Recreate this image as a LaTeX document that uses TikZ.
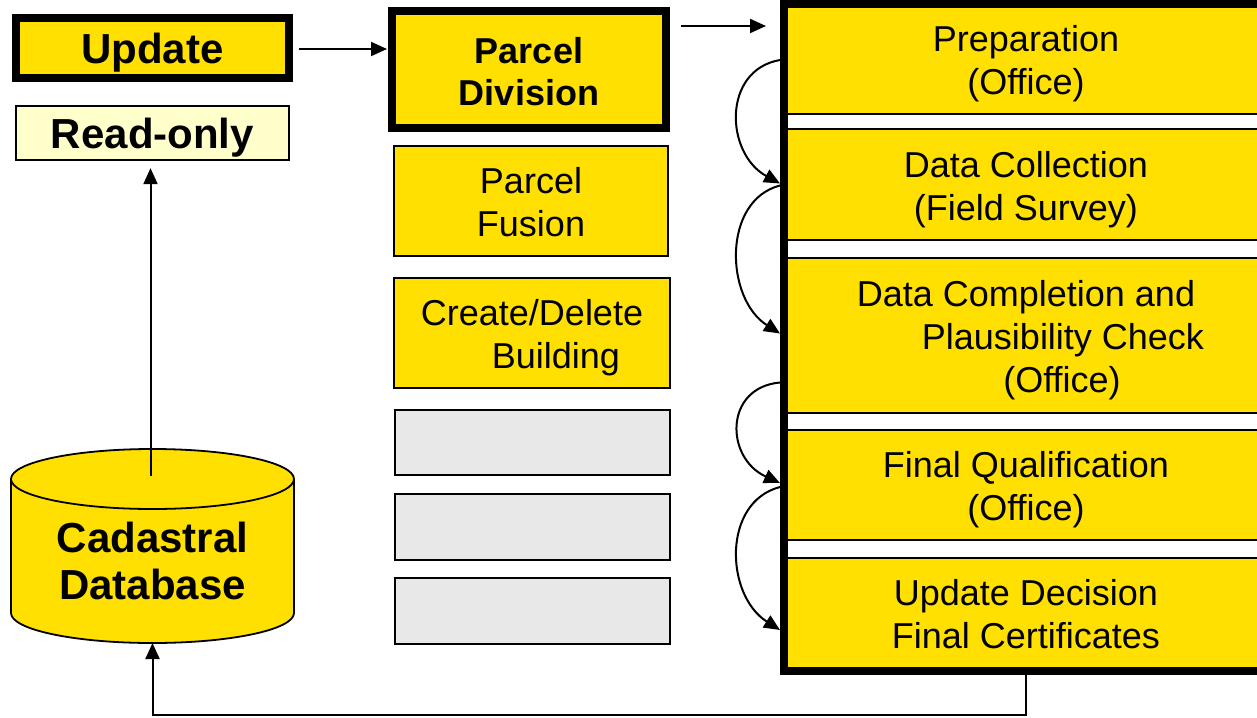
\documentclass[tikz,border=0pt]{standalone}
\usepackage{fontspec}
\setmainfont{Liberation Sans}
\usetikzlibrary{arrows.meta,calc}
\definecolor{yel}{RGB}{255,224,0}
\definecolor{paleyel}{RGB}{255,255,204}
\definecolor{lgray}{RGB}{232,232,232}
\newcommand{\lastdp}{\vphantom{(}}
\newcommand{\topstr}[1]{\rule{0pt}{#1}}
\begin{document}
\begin{tikzpicture}[x=1pt,y=-1pt,
  txt/.style={font=\fontsize{36}{43}\selectfont, align=center},
  bsmall/.style={font=\fontsize{36}{42}\selectfont\bfseries, align=center},
  bbig/.style={font=\fontsize{42}{47}\selectfont\bfseries, align=center},
  thickbox/.style={draw, line width=8pt, fill=yel, inner sep=0pt},
  thinbox/.style={draw, line width=1.8pt, fill=yel, inner sep=0pt},
  graybox/.style={draw, line width=1.8pt, fill=lgray, inner sep=0pt, minimum width=275.5pt, minimum height=65.5pt},
  secbox/.style={thinbox, txt, minimum width=480pt},
  arr/.style={line width=2pt, -{Triangle[length=16pt,width=14pt]}},
]
\clip (0,0) rectangle (1257,717);

% left column
\node[thickbox, bbig, minimum width=273pt, minimum height=60pt] (upd) at (152.5,48) {\topstr{39pt}Update\lastdp};
\node[thinbox, fill=paleyel, bbig, minimum width=273.5pt, minimum height=54.5pt] (ro) at (152.5,133) {\topstr{39pt}Read-only\lastdp};

% cylinder
\node[inner sep=0pt, outer sep=0pt, minimum width=283pt, minimum height=194pt] (db) at (152.5,546) {};
\path[fill=yel] (11,479) -- (11,613) .. controls (11,629.6) and (74.4,643) .. (152.5,643)
  .. controls (230.6,643) and (294,629.6) .. (294,613) -- (294,479) -- cycle;
\draw[line width=1.8pt] (11,479) -- (11,613) .. controls (11,629.6) and (74.4,643) .. (152.5,643)
  .. controls (230.6,643) and (294,629.6) .. (294,613) -- (294,479);
\draw[line width=1.8pt, fill=yel] (152.5,479) ellipse [x radius=141.5pt, y radius=30pt];
\node[bbig] (dbtxt) at (152.5,561) {Cadastral\\Database};

% middle column
\node[thickbox, bsmall, minimum width=274pt, minimum height=117pt] (pd) at (529,69.5) {\topstr{37pt}Parcel\\Division\lastdp};
\node[thinbox, txt, minimum width=274.5pt, minimum height=110.5pt] (pf) at (531,201) {\topstr{36pt}Parcel\\Fusion\lastdp};
\node[thinbox, txt, minimum width=276.5pt, minimum height=110.5pt] (cd) at (532,333) {\topstr{36pt}Create/Delete\\\hspace*{48pt}Building\lastdp};
\node[graybox] (g1) at (532.5,442.5) {};
\node[graybox] (g2) at (532.5,527) {};
\node[graybox] (g3) at (532.5,611) {};

% right column sections
\node[secbox, minimum height=110pt] (s1) at (1026,59) {\topstr{36pt}Preparation\\(Office)\lastdp};
\node[secbox, minimum height=111pt] (s2) at (1026,184.5) {\topstr{36pt}Data Collection\\(Field Survey)\lastdp};
\node[secbox, minimum height=155pt] (s3) at (1026,335.5) {\topstr{36pt}Data Completion and\\\hspace*{74pt}Plausibility Check\\\hspace*{72pt}(Office)\lastdp};
\node[secbox, minimum height=110pt] (s4) at (1026,485) {\topstr{36pt}Final Qualification\\(Office)\lastdp};
\node[secbox, minimum height=112pt] (s5) at (1026,614) {\topstr{34pt}Update Decision\\Final Certificates\lastdp};
\node[draw, line width=8pt, inner sep=0pt, minimum width=516pt, minimum height=667pt] (frame) at (1042,337.5) {};

% connectors
\draw[arr] ($(upd.east)+(6,1)$) -- ($(pd.west |- upd.east)+(-1,1)$);
\draw[arr] ($(pd.north east)+(11,19)$) -- ($(frame.west |- pd.north east)+(-14,19)$);
\draw[arr] ($(db.north)+(-2,27)$) -- ($(ro.south)+(-2,7)$);
\draw[arr] (frame.south -| s5.south) -- ++(0,40) -| (db.south);

\draw[arr] ($(frame.west |- s1.west)+(0,1)$) .. controls +(-58,10) and +(-55,-30) .. ($(frame.west |- s2.west)+(0,-1)$);
\draw[arr] ($(frame.west |- s2.west)+(0,1)$) .. controls +(-58,15) and +(-55,-35) .. ($(frame.west |- s3.west)+(0,-2)$);
\draw[arr] ($(frame.west |- s3.west)+(0,47)$) .. controls +(-56,5) and +(-55,-25) .. ($(frame.west |- s4.west)+(0,-2)$);
\draw[arr] ($(frame.west |- s4.west)+(0,2)$) .. controls +(-58,15) and +(-55,-35) .. ($(frame.west |- s5.west)+(0,16)$);
\end{tikzpicture}
\end{document}
